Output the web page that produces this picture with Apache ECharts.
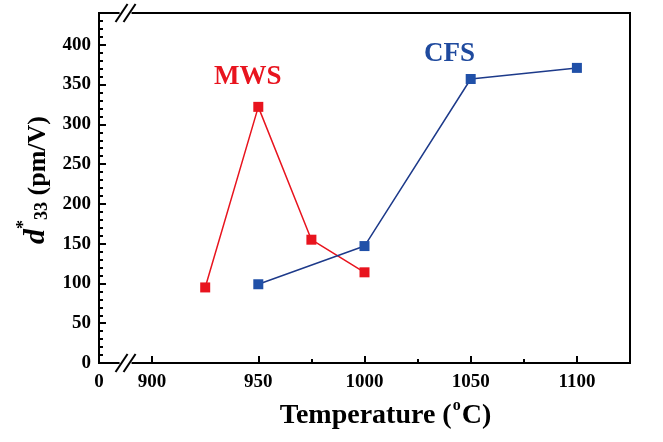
<!DOCTYPE html>
<html lang="en">
<head>
  <meta charset="UTF-8">
  <title>d33 vs temperature</title>
  <script src="https://cdn.jsdelivr.net/npm/echarts@6.0.0/dist/echarts.min.js"></script>
</head>
<body style="margin:0">
<div id="main" style="width:663px;height:442px"></div>

<script>
  // data
  var tempMWS = [925, 950, 975, 1000];
  var d33MWS = [95, 322, 155, 114];
  var tempCFS = [950, 1000, 1050, 1100];
  var d33CFS = [99, 147, 357, 371];
  // x axis is broken between 0 and 900
  var xBreak = { start: 0, end: 900, gap: 25 };
  // where the series names sit (data units)
  var nameMWS = [945, 360];
  var nameCFS = [1040, 388];

  var red = '#e8141e';
  var blue = '#2050a8';
  var font = 'Liberation Serif';

  function pairs(xs, ys) {
    var out = [];
    for (var i = 0; i < xs.length; i++) out.push([xs[i], ys[i]]);
    return out;
  }

  function nameLabel(coord, text, color) {
    return {
      symbol: 'rect',
      symbolSize: 1,
      itemStyle: { color: 'rgba(0,0,0,0)' },
      data: [{ coord: coord }],
      label: {
        show: true, formatter: text, position: 'inside',
        fontFamily: font, fontWeight: 'bold', fontSize: 27, color: color
      }
    };
  }

  var chart = echarts.init(document.getElementById('main'));
  var option = {
    animation: false,
    grid: {
      left: 99, right: 33, top: 13, bottom: 79,
      show: true, borderColor: '#000', borderWidth: 2, backgroundColor: 'transparent'
    },
    xAxis: {
      type: 'value',
      min: 0, max: 1125, interval: 50,
      breaks: [xBreak],
      breakArea: { show: false },
      name: '{t|Temperature (}{s|o}{t|C)}',
      nameLocation: 'middle',
      nameGap: 35,
      nameTextStyle: {
        padding: [0, 0, 0, 42],
        rich: {
          t: { fontFamily: font, fontWeight: 'bold', fontSize: 28, color: '#000', lineHeight: 32, verticalAlign: 'bottom' },
          s: { fontFamily: font, fontWeight: 'bold', fontSize: 16, color: '#000', lineHeight: 32, verticalAlign: 'top', padding: [0, 1, 12, 1] }
        }
      },
      axisLine: { lineStyle: { color: '#000', width: 2 } },
      axisTick: { inside: true, length: 7, lineStyle: { color: '#000', width: 2 } },
      minorTick: { show: true, splitNumber: 2, length: 4, lineStyle: { color: '#000', width: 2 } },
      splitLine: { show: false },
      axisLabel: {
        showMaxLabel: false,
        margin: 10,
        fontFamily: font, fontWeight: 'bold', fontSize: 19, color: '#000',
        formatter: function (v) { return String(v); }
      }
    },
    yAxis: {
      type: 'value',
      min: 0, max: 440, interval: 50,
      name: '{d|d}{sup|*}{sub|33}{t| (pm/V)}',
      nameLocation: 'middle',
      nameGap: 48,
      nameRotate: 90,
      nameTextStyle: {
        padding: [0, 0, 0, 16],
        rich: {
          d: { fontFamily: font, fontWeight: 'bold', fontStyle: 'italic', fontSize: 30, color: '#000', lineHeight: 36, verticalAlign: 'bottom' },
          sup: { fontFamily: font, fontWeight: 'bold', fontSize: 18, color: '#000', lineHeight: 36, verticalAlign: 'top' },
          sub: { fontFamily: font, fontWeight: 'bold', fontSize: 18, color: '#000', lineHeight: 36, verticalAlign: 'bottom' },
          t: { fontFamily: font, fontWeight: 'bold', fontSize: 26, color: '#000', lineHeight: 36, verticalAlign: 'bottom' }
        }
      },
      axisLine: { show: true, lineStyle: { color: '#000', width: 2 } },
      axisTick: { inside: true, length: 7, lineStyle: { color: '#000', width: 2 } },
      minorTick: { show: true, splitNumber: 5, length: 4, lineStyle: { color: '#000', width: 2 } },
      splitLine: { show: false },
      axisLabel: {
        showMaxLabel: false,
        margin: 8,
        fontFamily: font, fontWeight: 'bold', fontSize: 19, color: '#000'
      }
    },
    series: [
      {
        name: 'MWS',
        type: 'line',
        data: pairs(tempMWS, d33MWS),
        symbol: 'rect', symbolSize: 10,
        itemStyle: { color: red },
        lineStyle: { color: red, width: 1.5 },
        markPoint: nameLabel(nameMWS, 'MWS', red)
      },
      {
        name: 'CFS',
        type: 'line',
        data: pairs(tempCFS, d33CFS),
        symbol: 'rect', symbolSize: 10,
        itemStyle: { color: blue },
        lineStyle: { color: '#1d3a8a', width: 1.5 },
        markPoint: nameLabel(nameCFS, 'CFS', '#1f4a9e')
      }
    ]
  };
  chart.setOption(option);

  // "//" break marks on the bottom axis and the top frame
  var xa = chart.convertToPixel({ xAxisIndex: 0 }, xBreak.start);
  var xb = chart.convertToPixel({ xAxisIndex: 0 }, xBreak.end);
  var cx = (xa + xb) / 2;
  var yBottom = chart.convertToPixel({ yAxisIndex: 0 }, 0);
  var yTop = 13;
  var marks = [];
  [yBottom, yTop].forEach(function (yy) {
    marks.push({ type: 'rect', shape: { x: cx - 6, y: yy - 3, width: 12, height: 6 }, style: { fill: '#fff' }, z: 100 });
    [-4, 4].forEach(function (dx) {
      marks.push({
        type: 'line',
        shape: { x1: cx + dx - 6, y1: yy + 9, x2: cx + dx + 6, y2: yy - 9 },
        style: { stroke: '#000', lineWidth: 2 }, z: 101
      });
    });
  });
  chart.setOption({ graphic: marks });
</script>
</body>
</html>
